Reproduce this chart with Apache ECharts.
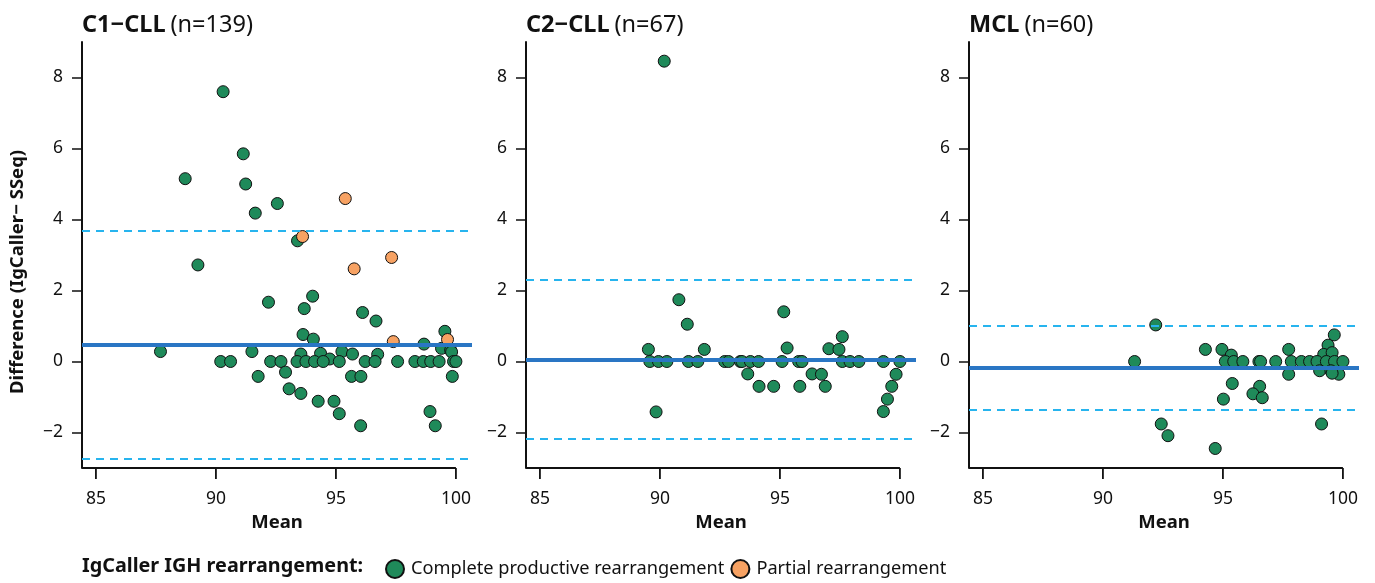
<!DOCTYPE html>
<html>
<head>
<meta charset="utf-8">
<script src="https://cdn.jsdelivr.net/npm/echarts@6/dist/echarts.min.js"></script>
<style>
  html, body { margin: 0; padding: 0; background: #fff; }
  #chart { width: 1375px; height: 583px; }
</style>
</head>
<body>
<div id="chart"></div>
<script>
var panelNames = ['C1\u2212CLL', 'C2\u2212CLL', 'MCL'];
var panelCounts = ['(n=139)', '(n=67)', '(n=60)'];

// [mean, difference] pairs
var c1Complete = [
  [90.30, 7.60], [91.14, 5.85], [88.72, 5.15], [91.24, 5.00], [92.56, 4.45], [91.64, 4.18],
  [93.40, 3.40], [89.25, 2.72], [92.19, 1.67], [94.03, 1.84], [93.68, 1.49], [96.11, 1.38],
  [96.67, 1.14], [93.63, 0.76], [94.06, 0.63], [99.54, 0.85], [98.67, 0.49], [99.40, 0.37],
  [99.78, 0.32], [99.82, 0.27], [87.69, 0.28], [91.50, 0.28], [93.54, 0.21], [94.36, 0.23],
  [95.25, 0.28], [95.69, 0.21], [96.74, 0.20], [94.74, 0.07],
  [90.20, 0], [90.61, 0], [92.28, 0], [92.71, 0], [93.38, 0], [93.75, 0], [94.11, 0],
  [94.47, 0], [95.14, 0], [96.22, 0], [96.63, 0], [97.57, 0], [98.29, 0], [98.64, 0],
  [98.95, 0], [99.30, 0], [99.90, 0], [100.0, 0],
  [92.90, -0.30], [91.76, -0.42], [95.65, -0.42], [96.04, -0.42], [99.85, -0.42],
  [93.05, -0.77], [93.54, -0.90], [94.26, -1.12], [94.92, -1.12], [95.14, -1.47],
  [96.03, -1.81], [98.92, -1.41], [99.14, -1.81]
];
var c1Partial = [
  [95.39, 4.59], [93.61, 3.52], [97.32, 2.93], [95.76, 2.61], [97.39, 0.56], [99.65, 0.62]
];
var c2Complete = [
  [90.18, 8.46], [90.79, 1.74], [91.14, 1.05], [95.16, 1.40], [89.52, 0.34], [91.85, 0.34],
  [95.30, 0.38], [97.04, 0.36], [97.46, 0.34], [97.60, 0.70],
  [89.58, 0], [89.94, 0], [90.29, 0], [91.19, 0], [91.58, 0], [92.70, 0], [92.86, 0],
  [93.35, 0], [93.42, 0], [93.77, 0], [94.11, 0], [95.09, 0], [95.78, 0], [95.92, 0],
  [97.60, 0], [97.92, 0], [98.29, 0], [99.31, 0], [100.0, 0],
  [93.66, -0.35], [96.34, -0.35], [96.73, -0.36], [99.84, -0.36], [94.13, -0.70],
  [94.74, -0.70], [95.83, -0.70], [96.89, -0.70], [99.66, -0.70], [99.48, -1.06],
  [99.31, -1.41], [89.84, -1.42]
];
var c2Partial = [];
var mclComplete = [
  [92.20, 1.03], [91.32, 0], [94.27, 0.34], [94.96, 0.34], [95.35, 0.18], [97.74, 0.34],
  [99.64, 0.75], [99.38, 0.46], [99.20, 0.20], [99.55, 0.25],
  [95.10, 0], [95.45, 0], [95.83, 0], [96.50, 0], [96.57, 0], [97.20, 0], [97.85, 0],
  [98.27, 0], [98.61, 0], [98.92, 0], [99.31, 0], [99.65, 0], [100.0, 0],
  [97.74, -0.36], [99.03, -0.26], [99.50, -0.26], [99.83, -0.36], [99.55, -0.33],
  [95.39, -0.62], [96.53, -0.70], [96.25, -0.91], [96.64, -1.02], [95.02, -1.06],
  [92.43, -1.76], [92.71, -2.09], [94.68, -2.45], [99.11, -1.76]
];
var mclPartial = [];

var meanDiff = [0.475, 0.06, -0.18];
var upperLimit = [3.69, 2.29, 1.02];
var lowerLimit = [-2.74, -2.18, -1.36];

var xTicks = [85, 90, 95, 100];
var yTicks = [-2, 0, 2, 4, 6, 8];
var xRange = [84.42, 100.67];
var yRange = [-3, 9];

var completeData = [c1Complete, c2Complete, mclComplete];
var partialData = [c1Partial, c2Partial, mclPartial];

var FONT = 'Noto Sans';
var green = '#1f8a5a';
var orange = '#f7a263';
var gridLeft = [82, 526, 969];

var chart = echarts.init(document.getElementById('chart'));

var grids = [], xAxes = [], yAxes = [], series = [], titles = [];
for (var i = 0; i < 3; i++) {
  grids.push({ left: gridLeft[i], top: 42, width: 390, height: 426 });
  titles.push({
    left: gridLeft[i] - 5, top: 8,
    text: '{b|' + panelNames[i] + '} {n|' + panelCounts[i] + '}',
    textStyle: {
      fontWeight: 'normal',
      rich: {
        b: { fontFamily: FONT, fontSize: 23.5, fontWeight: 'bold', color: '#111' },
        n: { fontFamily: FONT, fontSize: 23.5, fontWeight: 'normal', color: '#111' }
      }
    }
  });
  xAxes.push({
    gridIndex: i, type: 'value', min: xRange[0], max: xRange[1],
    name: 'Mean', nameLocation: 'middle', nameGap: 40,
    nameTextStyle: { fontFamily: FONT, fontSize: 18.5, fontWeight: 'bold', color: '#111' },
    splitLine: { show: false },
    axisLine: { show: false, onZero: false },
    axisTick: { show: false },
    axisLabel: { customValues: xTicks, margin: 22, fontFamily: FONT, fontSize: 17.5, color: '#111' }
  });
  yAxes.push({
    gridIndex: i, type: 'value', min: yRange[0], max: yRange[1],
    splitLine: { show: false },
    axisLine: { show: true, onZero: false, lineStyle: { color: '#111', width: 2 } },
    axisTick: { show: true, length: 10, customValues: yTicks, lineStyle: { color: '#111', width: 1.5 } },
    axisLabel: {
      customValues: yTicks, margin: 19, fontFamily: FONT, fontSize: 17.5, color: '#111',
      formatter: function (v) { return String(v).replace('-', '\u2212'); }
    }
  });
  // bottom axis line running from the left edge to the last tick
  series.push({
    type: 'line', xAxisIndex: i, yAxisIndex: i, clip: false, silent: true,
    symbol: 'none', z: 4,
    lineStyle: { color: '#111', width: 2 },
    data: [[xRange[0], yRange[0]], [xTicks[xTicks.length - 1], yRange[0]]]
  });
  // x tick marks hanging below the bottom line
  series.push({
    type: 'scatter', xAxisIndex: i, yAxisIndex: i, clip: false, silent: true, z: 4,
    symbol: 'rect', symbolSize: [1.8, 11], symbolOffset: [0, 5.5],
    itemStyle: { color: '#111', opacity: 1 },
    data: xTicks.map(function (t) { return [t, yRange[0]]; })
  });
  series.push({
    name: 'Complete productive rearrangement', type: 'scatter',
    xAxisIndex: i, yAxisIndex: i, symbolSize: 12, z: 2,
    itemStyle: { color: green, opacity: 1, borderColor: '#111', borderWidth: 1 },
    data: completeData[i]
  });
  series.push({
    name: 'Partial rearrangement', type: 'scatter',
    xAxisIndex: i, yAxisIndex: i, symbolSize: 12, z: 3,
    itemStyle: { color: orange, opacity: 1, borderColor: '#111', borderWidth: 1 },
    data: partialData[i]
  });
  series.push({
    type: 'scatter', xAxisIndex: i, yAxisIndex: i, data: [], z: 5, silent: true,
    markLine: {
      symbol: 'none', silent: true, label: { show: false }, z: 5,
      data: [
        { yAxis: upperLimit[i], lineStyle: { color: '#27b4ee', width: 2, type: [8, 6], opacity: 1 } },
        { yAxis: lowerLimit[i], lineStyle: { color: '#27b4ee', width: 2, type: [8, 6], opacity: 1 } },
        { yAxis: meanDiff[i], lineStyle: { color: '#2a76c4', width: 4, type: 'solid', opacity: 1 } }
      ]
    }
  });
}

var option = {
  animation: false,
  backgroundColor: '#fff',
  title: titles,
  grid: grids,
  xAxis: xAxes,
  yAxis: yAxes,
  legend: {
    left: 380, top: 554,
    icon: 'circle', itemWidth: 18, itemHeight: 18, itemGap: 6,
    data: ['Complete productive rearrangement', 'Partial rearrangement'],
    textStyle: { fontFamily: FONT, fontSize: 18.2, color: '#111', padding: [0, 0, 0, 2] }
  },
  graphic: [
    {
      type: 'text', left: 82, top: 556,
      style: { text: 'IgCaller IGH rearrangement:', fontFamily: FONT, fontSize: 19.8, fontWeight: 'bold', fill: '#111' }
    },
    {
      type: 'text', x: 18, y: 272, rotation: Math.PI / 2,
      style: {
        text: 'Difference (IgCaller\u2212 SSeq)', fontFamily: FONT, fontSize: 18.5, fontWeight: 'bold',
        fill: '#111', align: 'center', verticalAlign: 'middle'
      }
    }
  ],
  series: series
};
chart.setOption(option);
</script>
</body>
</html>
